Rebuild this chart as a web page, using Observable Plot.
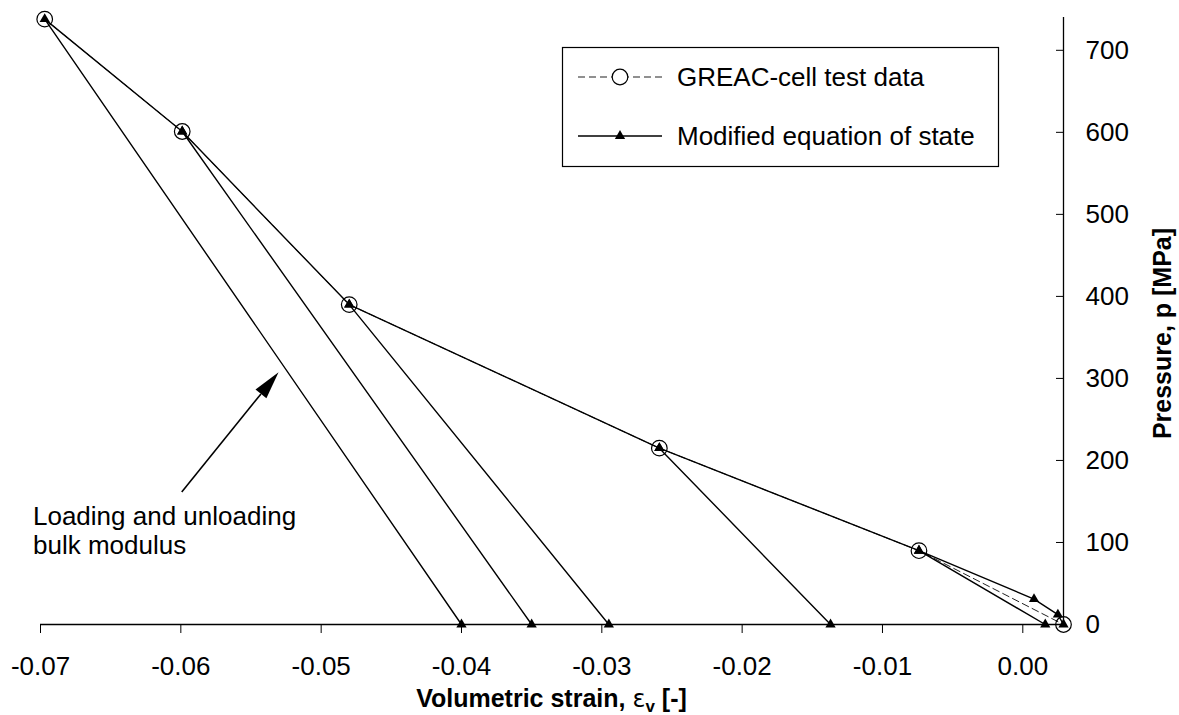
<!DOCTYPE html>
<html><head><meta charset="utf-8">
<script src="https://cdn.jsdelivr.net/npm/d3@7"></script>
<script src="https://cdn.jsdelivr.net/npm/@observablehq/plot@0.6"></script>
<style>body{margin:0;background:#fff} svg{display:block}</style>
</head><body><div id="chart"></div>
<script>
// GREAC-cell test data
const testStrain   = [-0.0697, -0.0599, -0.0480, -0.0259, -0.0074, 0.0029];
const testPressure = [738, 601, 390, 215, 90, 0];
// Modified equation of state (loading / unloading path)
const modelStrain   = [0.0029, 0.0025, 0.0008, -0.0074, 0.0016, -0.0074, -0.0259, -0.0137, -0.0259, -0.0480, -0.0295, -0.0480, -0.0599, -0.0350, -0.0599, -0.0697, -0.0400];
const modelPressure = [0, 12, 31, 90, 0, 90, 215, 0, 215, 390, 0, 390, 601, 0, 601, 738, 0];
const xTicks = [-0.07, -0.06, -0.05, -0.04, -0.03, -0.02, -0.01, 0.00];
const yTicks = [0, 100, 200, 300, 400, 500, 600, 700];
const xDomain = [-0.07, 0.0029];
const yDomain = [0, 740];
const seriesNames = ["GREAC-cell test data", "Modified equation of state"];
const annotationLines = ["Loading and unloading", "bulk modulus"];
const annotationArrow = {x1: -0.0599, y1: 161, x2: -0.0530, y2: 307};
const annotationText = {x: -0.0705, y: 121};

const test = testStrain.map((x, i) => ({x, y: testPressure[i]}));
const model = modelStrain.map((x, i) => ({x, y: modelPressure[i]}));

const FONT = "'Liberation Sans', Arial, sans-serif";
const TRI_R = 3.8;
const DASH = "#222";
const chart = Plot.plot({
  width: 1179, height: 715,
  marginLeft: 40, marginRight: 116, marginTop: 17, marginBottom: 91,
  style: {fontFamily: FONT, fontSize: "26px", color: "#000", background: "#fff", overflow: "visible"},
  x: {domain: xDomain},
  y: {domain: yDomain},
  marks: [
    Plot.ruleY([0], {stroke: "#000", strokeWidth: 1.3}),
    Plot.ruleX([xDomain[1]], {stroke: "#000", strokeWidth: 1.3}),
    Plot.axisX(xTicks, {anchor: "bottom", tickSize: 9, tickPadding: 23, tickFormat: d => d.toFixed(2), label: null, stroke: "#000"}),
    Plot.axisY(yTicks, {anchor: "right", tickSize: 8, dx: -8, tickFormat: () => "", label: null, stroke: "#000"}),
    Plot.axisY(yTicks, {anchor: "right", tickSize: 0, tickPadding: 22, label: null}),
    Plot.line(test, {x: "x", y: "y", stroke: DASH, strokeWidth: 1, strokeDasharray: "7,4"}),
    Plot.line(model, {x: "x", y: "y", stroke: "#000", strokeWidth: 1.4}),
    Plot.dot(test, {x: "x", y: "y", r: 7.8, stroke: "#000", fill: "none", strokeWidth: 1.2}),
    Plot.dot(model, {x: "x", y: "y", symbol: "triangle", r: TRI_R, fill: "#000", stroke: null})
  ]
});
document.getElementById("chart").appendChild(chart);

const svg = d3.select(chart);
const sx = chart.scale("x"), sy = chart.scale("y");

// axis titles
const xt = svg.append("text")
  .attr("x", (sx.apply(xDomain[0]) + sx.apply(xDomain[1])) / 2)
  .attr("y", 707).attr("text-anchor", "middle")
  .attr("font-family", FONT).attr("font-size", 25).attr("font-weight", "bold");
xt.append("tspan").text("Volumetric strain, ");
xt.append("tspan").attr("font-weight", "normal").attr("font-family", "'DejaVu Sans', sans-serif").attr("font-size", 24).text("ε");
xt.append("tspan").attr("font-size", 17).attr("dy", 5).text("v");
xt.append("tspan").attr("dy", -5).text(" [-]");

svg.append("text")
  .attr("transform", `translate(1171,${(sy.apply(yDomain[0]) + sy.apply(yDomain[1])) / 2 + 13}) rotate(-90)`)
  .attr("text-anchor", "middle")
  .attr("font-family", FONT).attr("font-size", 25).attr("font-weight", "bold")
  .text("Pressure, p [MPa]");

// legend
const lg = svg.append("g").attr("text-anchor", "start");
lg.append("rect").attr("x", 562.5).attr("y", 47.5).attr("width", 436).attr("height", 119)
  .attr("fill", "#fff").attr("stroke", "#000").attr("stroke-width", 1.2);
const rows = [77, 136];
lg.append("line").attr("x1", 578).attr("x2", 662).attr("y1", rows[0]).attr("y2", rows[0])
  .attr("stroke", DASH).attr("stroke-width", 1.2).attr("stroke-dasharray", "7,4");
lg.append("circle").attr("cx", 620).attr("cy", rows[0]).attr("r", 7.8)
  .attr("fill", "#fff").attr("stroke", "#000").attr("stroke-width", 1.2);
lg.append("line").attr("x1", 578).attr("x2", 662).attr("y1", rows[1]).attr("y2", rows[1])
  .attr("stroke", "#000").attr("stroke-width", 1.4);
lg.append("path").attr("transform", `translate(620,${rows[1]})`)
  .attr("d", d3.symbol(d3.symbolTriangle, Math.PI * TRI_R * TRI_R)()).attr("fill", "#000");
seriesNames.forEach((s, i) => {
  lg.append("text").attr("x", 677).attr("y", rows[i] + 9).attr("text-anchor", "start")
    .attr("font-family", FONT).attr("font-size", 26).text(s);
});

// annotation arrow
const ax1 = sx.apply(annotationArrow.x1), ay1 = sy.apply(annotationArrow.y1);
const ax2 = sx.apply(annotationArrow.x2), ay2 = sy.apply(annotationArrow.y2);
const ang = Math.atan2(ay2 - ay1, ax2 - ax1);
const L = 28, W = 7;
const bx = ax2 - L * Math.cos(ang), by = ay2 - L * Math.sin(ang);
svg.append("line").attr("x1", ax1).attr("y1", ay1).attr("x2", bx).attr("y2", by)
  .attr("stroke", "#000").attr("stroke-width", 1.6);
svg.append("path")
  .attr("d", `M${ax2},${ay2}L${bx - W * Math.sin(ang)},${by + W * Math.cos(ang)}L${bx + W * Math.sin(ang)},${by - W * Math.cos(ang)}Z`)
  .attr("fill", "#000");
annotationLines.forEach((t, i) => {
  svg.append("text").attr("x", sx.apply(annotationText.x)).attr("y", sy.apply(annotationText.y) + i * 29)
    .attr("text-anchor", "start")
    .attr("font-family", FONT).attr("font-size", 26).text(t);
});
</script>
</body></html>
